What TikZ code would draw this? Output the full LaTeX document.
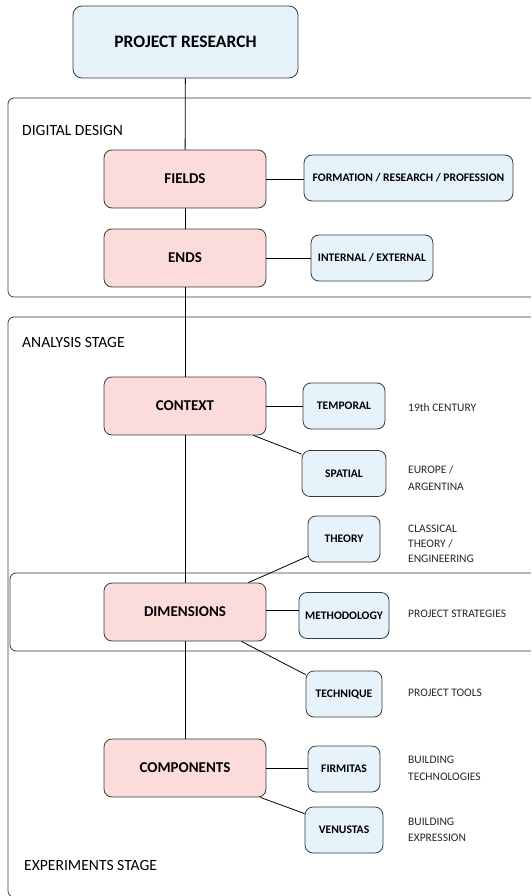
\documentclass[tikz,border=0pt]{standalone}
\usepackage{fontspec}
\setmainfont{Carlito}
\usetikzlibrary{positioning}
\definecolor{boxblue}{HTML}{E7F3FA}
\definecolor{boxpink}{HTML}{FBDCDA}
\definecolor{edgegray}{HTML}{3A3A3A}
\begin{document}
\begin{tikzpicture}[x=1pt,y=-1pt,
  top/.style={draw=edgegray, fill=boxblue, rounded corners=9pt, line width=0.8pt,
              minimum width=225pt, minimum height=72pt,
              font=\fontsize{17.5}{20}\selectfont\bfseries},
  main/.style={draw=edgegray, fill=boxpink, rounded corners=8pt, line width=0.8pt,
               minimum width=162pt, minimum height=58pt,
               font=\fontsize{15}{17}\selectfont\bfseries},
  sub/.style={draw=edgegray, fill=boxblue, rounded corners=8pt, line width=0.8pt,
              minimum height=46pt, inner sep=0pt,
              font=\fontsize{11.6}{13}\selectfont\bfseries},
  note/.style={anchor=west, align=left, inner sep=0pt, text=black!85,
               font=\fontsize{11.5}{16.5}\selectfont},
  stage/.style={draw=edgegray, line width=0.8pt, rounded corners=6pt},
  lbl/.style={anchor=west, inner sep=0pt, font=\fontsize{15.6}{17}\selectfont},
  link/.style={draw=black, line width=0.8pt}
]
\useasboundingbox (0,0) rectangle (531,896);
\clip (0,0) rectangle (531,896);
% Stages
\draw[stage] (8,98) rectangle (545,297);
\draw[stage] (8,317) rectangle (545,897);
\draw[stage] (10,573) rectangle (545,651);
\node[lbl] (digital) at (22,130) {DIGITAL DESIGN};
\node[lbl] (analysis) at (22,342) {ANALYSIS STAGE};
\node[lbl] (experiments) at (24,865) {EXPERIMENTS STAGE};
% Spine
\node[top] (research) at (185.5,42) {PROJECT RESEARCH};
\node[main] (fields) at (185,179) {FIELDS};
\node[main] (ends) at (185,258) {ENDS};
\node[main] (context) at (185,406) {CONTEXT};
\node[main] (dimensions) at (185,612) {DIMENSIONS};
\node[main] (components) at (185,768) {COMPONENTS};
% Branches
\node[sub, minimum width=209pt] (formation) at (408.5,178) {FORMATION / RESEARCH / PROFESSION};
\node[sub, minimum width=122pt] (internal) at (372,258) {INTERNAL / EXTERNAL};
\node[sub, minimum width=82pt] (temporal) at (344,406) {TEMPORAL};
\node[sub, minimum width=84pt] (spatial) at (344,473.5) {SPATIAL};
\node[sub, minimum width=72pt] (theory) at (344,539) {THEORY};
\node[sub, minimum width=90pt] (methodology) at (344,615.5) {METHODOLOGY};
\node[sub, minimum width=76pt] (technique) at (344,694) {TECHNIQUE};
\node[sub, minimum width=72pt] (firmitas) at (344,769) {FIRMITAS};
\node[sub, minimum width=78pt] (venustas) at (344,830) {VENUSTAS};
% Notes
\node[note] (century) at (408,408) {19th CENTURY};
\node[note] (europe) at (408,478) {EUROPE /\\ARGENTINA};
\node[note] (classical) at (408,544) {CLASSICAL\\[-1.5pt]THEORY /\\[-1.5pt]ENGINEERING};
\node[note] (strategies) at (408,614) {PROJECT STRATEGIES};
\node[note] (tools) at (408,693) {PROJECT TOOLS};
\node[note] (technologies) at (408,768.5) {BUILDING\\TECHNOLOGIES};
\node[note] (expression) at (408,830) {BUILDING\\EXPRESSION};
% Links
\draw[link] (research) -- (fields);
\draw[link] (fields) -- (ends);
\draw[link] (ends) -- (context);
\draw[link] (context) -- (dimensions);
\draw[link] (dimensions) -- (components);
\draw[link] (fields.east) -- (fields.east -| formation.west);
\draw[link] (ends.east) -- (ends.east -| internal.west);
\draw[link] (context.east) -- (context.east -| temporal.west);
\draw[link] ([xshift=-13pt]context.south east) -- ([yshift=-4pt]spatial.north west);
\draw[link] ([yshift=6pt]theory.south west) -- ([xshift=-18pt]dimensions.north east);
\draw[link] ([yshift=2pt]dimensions.east) -- ([yshift=2pt]dimensions.east -| methodology.west);
\draw[link] ([xshift=-25pt]dimensions.south east) -- ([yshift=-4pt]technique.north west);
\draw[link] (components.east) -- (components.east -| firmitas.west);
\draw[link] ([xshift=-6pt]components.south east) -- ([yshift=-7pt]venustas.north west);
\end{tikzpicture}
\end{document}
